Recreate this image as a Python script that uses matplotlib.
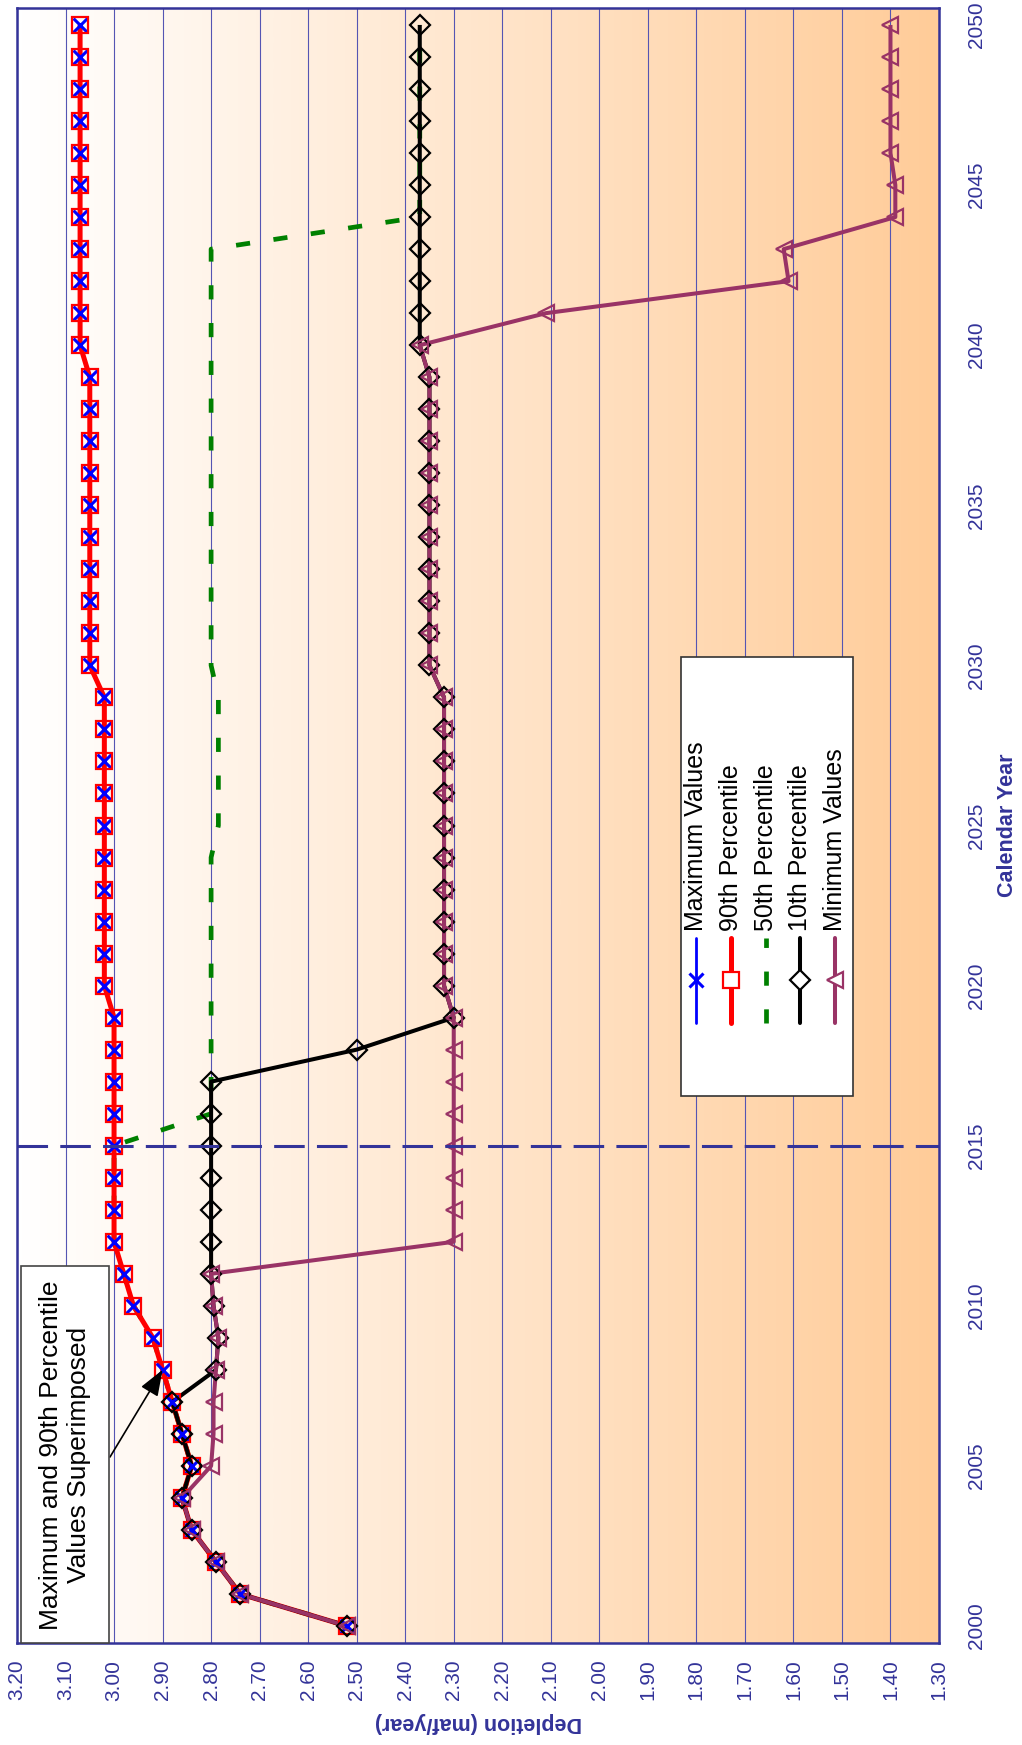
# depletion chart, drawn turned on its side (years run up the right edge)
import numpy as np
import matplotlib
matplotlib.use('Agg')
import matplotlib.pyplot as plt
from matplotlib.colors import LinearSegmentedColormap
from matplotlib.patches import Rectangle
from matplotlib.lines import Line2D

plt.rcParams['font.family'] = ['Liberation Sans', 'DejaVu Sans']

years = list(range(2000, 2051))

max_vals = [2.52, 2.74, 2.79, 2.84, 2.86, 2.84, 2.86, 2.88, 2.90, 2.92,
            2.96, 2.98, 3.00, 3.00, 3.00, 3.00, 3.00, 3.00, 3.00, 3.00,
            3.02, 3.02, 3.02, 3.02, 3.02, 3.02, 3.02, 3.02, 3.02, 3.02,
            3.05, 3.05, 3.05, 3.05, 3.05, 3.05, 3.05, 3.05, 3.05, 3.05,
            3.07, 3.07, 3.07, 3.07, 3.07, 3.07, 3.07, 3.07, 3.07, 3.07, 3.07]
p90_vals = [2.52, 2.74, 2.79, 2.84, 2.86, 2.84, 2.86, 2.88, 2.90, 2.92,
            2.96, 2.98, 3.00, 3.00, 3.00, 3.00, 3.00, 3.00, 3.00, 3.00,
            3.02, 3.02, 3.02, 3.02, 3.02, 3.02, 3.02, 3.02, 3.02, 3.02,
            3.05, 3.05, 3.05, 3.05, 3.05, 3.05, 3.05, 3.05, 3.05, 3.05,
            3.07, 3.07, 3.07, 3.07, 3.07, 3.07, 3.07, 3.07, 3.07, 3.07, 3.07]
p50_vals = [2.52, 2.74, 2.79, 2.84, 2.86, 2.84, 2.86, 2.88, 2.90, 2.92,
            2.96, 2.98, 3.00, 3.00, 3.00, 3.00, 2.80, 2.80, 2.80, 2.80,
            2.80, 2.80, 2.80, 2.80, 2.80, 2.785, 2.785, 2.785, 2.785, 2.785,
            2.80, 2.80, 2.80, 2.80, 2.80, 2.80, 2.80, 2.80, 2.80, 2.80,
            2.80, 2.80, 2.80, 2.80, 2.37, 2.37, 2.37, 2.37, 2.37, 2.37, 2.37]
p10_vals = [2.52, 2.74, 2.79, 2.84, 2.86, 2.84, 2.86, 2.88, 2.79, 2.785,
            2.795, 2.80, 2.80, 2.80, 2.80, 2.80, 2.80, 2.80, 2.50, 2.30,
            2.32, 2.32, 2.32, 2.32, 2.32, 2.32, 2.32, 2.32, 2.32, 2.32,
            2.35, 2.35, 2.35, 2.35, 2.35, 2.35, 2.35, 2.35, 2.35, 2.35,
            2.37, 2.37, 2.37, 2.37, 2.37, 2.37, 2.37, 2.37, 2.37, 2.37, 2.37]
min_vals = [2.52, 2.74, 2.79, 2.84, 2.86, 2.80, 2.795, 2.795, 2.79, 2.785,
            2.795, 2.80, 2.30, 2.30, 2.30, 2.30, 2.30, 2.30, 2.30, 2.30,
            2.32, 2.32, 2.32, 2.32, 2.32, 2.32, 2.32, 2.32, 2.32, 2.32,
            2.35, 2.35, 2.35, 2.35, 2.35, 2.35, 2.35, 2.35, 2.35, 2.35,
            2.37, 2.11, 1.61, 1.62, 1.39, 1.39, 1.40, 1.40, 1.40, 1.40, 1.40]

series_names = ['Maximum Values', '90th Percentile', '50th Percentile',
                '10th Percentile', 'Minimum Values']
dep_ticks = [3.20, 3.10, 3.00, 2.90, 2.80, 2.70, 2.60, 2.50, 2.40, 2.30,
             2.20, 2.10, 2.00, 1.90, 1.80, 1.70, 1.60, 1.50, 1.40, 1.30]
year_ticks = [2000, 2005, 2010, 2015, 2020, 2025, 2030, 2035, 2040, 2045, 2050]
cutoff_year = 2015
note_text = 'Maximum and 90th Percentile\nValues Superimposed'

W, H = 1022, 1745
NAVY = '#333399'


def fx(px):
    return px / W


def fy(py):
    return 1 - py / H


styles = [
    dict(color='#0000FF', lw=2.0, ls='-', marker='x', ms=10, mew=2.2),
    dict(color='#FF0000', lw=3.6, ls='-', marker='s', ms=12, mew=1.6),
    dict(color='#008000', lw=3.4, ls=(0, (3, 5)), marker=None, ms=0, mew=0),
    dict(color='#000000', lw=2.9, ls='-', marker='D', ms=10, mew=1.6),
    dict(color='#993366', lw=2.9, ls='-', marker='<', ms=12, mew=1.6),
]
all_vals = [max_vals, p90_vals, p50_vals, p10_vals, min_vals]
# the median line sits underneath the others
line_order = [2, 0, 1, 3, 4]

fig = plt.figure(figsize=(W / 100, H / 100), dpi=100)
fig.patch.set_facecolor('white')
ax = fig.add_axes([fx(17), fy(1643), fx(939) - fx(17), fy(8) - fy(1643)])

# background gradient white -> peach
cmap = LinearSegmentedColormap.from_list('bg', ['#FFFFFF', '#FFCC99'])
ylo, yhi = 1999.47, 2050.53
ax.imshow(np.linspace(0, 1, 256).reshape(1, -1), cmap=cmap, aspect='auto',
          extent=[3.2, 1.3, ylo, yhi], zorder=0, interpolation='bilinear')

# lines first, markers afterwards
for i in line_order:
    st = styles[i]
    ax.plot(all_vals[i], years, color=st['color'], lw=st['lw'], ls=st['ls'],
            zorder=3, solid_capstyle='butt', dash_capstyle='butt')
for vals, st in zip(all_vals, styles):
    if st['marker'] is None:
        continue
    ax.plot(vals, years, ls='none', marker=st['marker'], ms=st['ms'],
            mew=st['mew'], mec=st['color'], mfc='none', zorder=4)

ax.axhline(cutoff_year, color=NAVY, lw=2.2, dashes=(10, 4), zorder=5)

ax.set_xlim(3.2, 1.3)
ax.set_ylim(ylo, yhi)

ax.set_xticks(dep_ticks)
ax.set_xticklabels([f'{v:.2f}' for v in dep_ticks], rotation=90,
                   color=NAVY, fontsize=15)
ax.tick_params(axis='x', length=0, pad=12)
ax.xaxis.grid(True, color='#5555b3', lw=0.8)
ax.set_axisbelow(True)

ax.yaxis.tick_right()
ax.set_yticks(year_ticks)
ax.set_yticklabels([str(y) for y in year_ticks], rotation=90,
                   color=NAVY, fontsize=15, va='center')
ax.tick_params(axis='y', length=0, pad=20)

for sp in ax.spines.values():
    sp.set_edgecolor(NAVY)
    sp.set_linewidth(1.8)

fig.text(fx(1007), fy(825), 'Calendar Year', rotation=90, ha='center',
         va='center', fontsize=15.5, fontweight='bold', color=NAVY)
fig.text(fx(478), fy(1723), 'Depletion (maf/year)', rotation=180,
         ha='center', va='center', fontsize=15.5, fontweight='bold',
         color=NAVY)

# note box with arrow
fig.add_artist(Rectangle((fx(21), fy(1643)), fx(109) - fx(21),
                         fy(1266) - fy(1643), transform=fig.transFigure,
                         facecolor='white', edgecolor='#444444', lw=1.2,
                         zorder=6))
fig.text(fx(65), fy(1455), note_text, rotation=90, ha='center', va='center',
         fontsize=19, linespacing=1.2, multialignment='center', zorder=7)
ax.annotate('', xy=(max_vals[8], years[8]), xycoords='data',
            xytext=(fx(110), fy(1457)), textcoords='figure fraction',
            arrowprops=dict(arrowstyle='-|>,head_length=0.8,head_width=0.3',
                            color='black', lw=1.2, mutation_scale=20,
                            shrinkA=0, shrinkB=0),
            zorder=6)

# legend, drawn by hand because it is rotated
fig.add_artist(Rectangle((fx(681), fy(1096)), fx(853) - fx(681),
                         fy(657) - fy(1096), transform=fig.transFigure,
                         facecolor='white', edgecolor='#333333', lw=1.2,
                         zorder=6))
leg_x = [696, 730.7, 765.5, 800, 834.5]
for name, st, lx in zip(series_names, styles, leg_x):
    fig.add_artist(Line2D([fx(lx), fx(lx)], [fy(1023), fy(938)],
                          transform=fig.transFigure, color=st['color'],
                          lw=st['lw'], ls=st['ls'], zorder=7,
                          solid_capstyle='round', dash_capstyle='butt'))
    if st['marker'] is not None:
        fig.add_artist(Line2D([fx(lx)], [fy(980)], transform=fig.transFigure,
                              ls='none', marker=st['marker'], ms=st['ms'],
                              mew=st['mew'], mec=st['color'], mfc='white',
                              zorder=8))
    fig.text(fx(lx), fy(931), name, rotation=90, ha='center', va='bottom',
             fontsize=18, color='black', zorder=8)

fig.savefig('out.png', dpi=100, facecolor='white')
